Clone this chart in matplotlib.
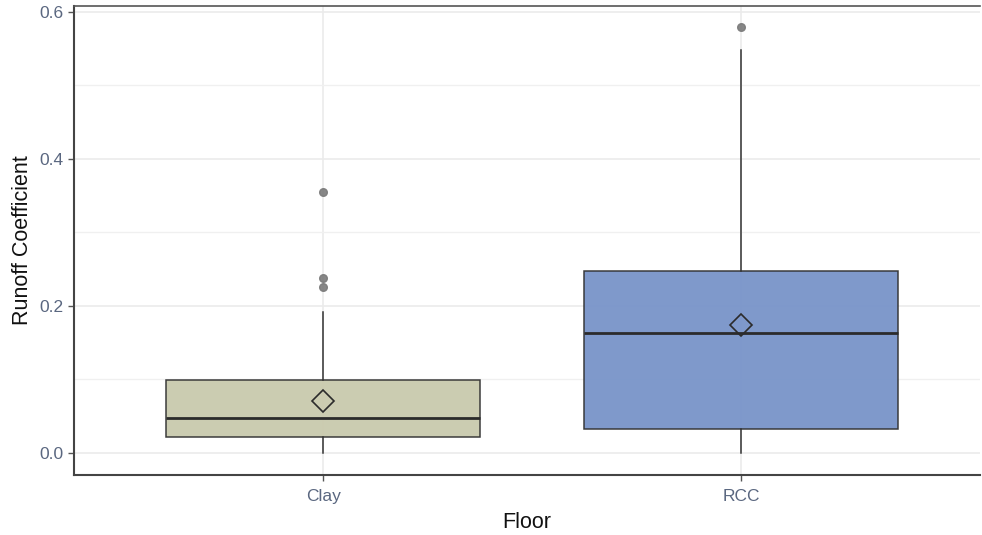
import matplotlib
matplotlib.use("Agg")
import matplotlib.pyplot as plt
from matplotlib.ticker import MultipleLocator, FormatStrFormatter

plt.rcParams['font.family'] = ['Liberation Sans', 'DejaVu Sans']

categories = ["Clay", "RCC"]
q1 = [0.022, 0.033]
median = [0.047, 0.163]
q3 = [0.099, 0.248]
whislo = [0.0, 0.0]
whishi = [0.192, 0.548]
means = [0.071, 0.174]
outliers = [[0.355, 0.238, 0.226], [0.580]]
fills = ["#c9caad", "#7894c9"]

fig = plt.figure(figsize=(9.82, 5.35), dpi=100)
ax = fig.add_axes([74/982, 1-475/535, (980-74)/982, (475-6)/535])

stats = []
for i, c in enumerate(categories):
    stats.append(dict(label=c, q1=q1[i], med=median[i], q3=q3[i],
                      whislo=whislo[i], whishi=whishi[i], mean=means[i],
                      fliers=outliers[i]))

bp = ax.bxp(stats, positions=[1, 2], widths=0.75, patch_artist=True,
            showmeans=True, showcaps=False,
            boxprops=dict(edgecolor="#333333", linewidth=1.1),
            medianprops=dict(color="#2b2b2b", linewidth=2.0),
            whiskerprops=dict(color="#333333", linewidth=1.1),
            flierprops=dict(marker="o", markersize=5.5, markerfacecolor="#7a7a7a",
                            markeredgecolor="#7a7a7a", alpha=0.9),
            meanprops=dict(marker="D", markersize=11, markerfacecolor="none",
                           markeredgecolor="#2b2b2b", markeredgewidth=1.2),
            zorder=3)
for patch, col in zip(bp["boxes"], fills):
    patch.set_facecolor(col)
    patch.set_alpha(0.95)
    patch.set_edgecolor("#333333")

ax.set_xlim(0.404, 2.572)
ax.set_ylim(-0.030, 0.608)
ax.yaxis.set_major_locator(MultipleLocator(0.2))
ax.yaxis.set_minor_locator(MultipleLocator(0.1))
ax.yaxis.set_major_formatter(FormatStrFormatter("%.1f"))
ax.set_xticks([1, 2])
ax.set_xticklabels(categories)

ax.grid(True, which="major", color="#ebebeb", linewidth=1.2, zorder=0)
ax.grid(True, which="minor", axis="y", color="#f0f0f0", linewidth=1.0, zorder=0)
ax.set_axisbelow(True)

for s in ["left", "bottom"]:
    ax.spines[s].set_color("#444444")
    ax.spines[s].set_linewidth(1.5)
ax.spines["top"].set_color("#555555")
ax.spines["top"].set_linewidth(1.2)
ax.spines["right"].set_visible(False)

ax.tick_params(axis="both", which="major", colors="#555555", labelcolor="#5a6780",
               labelsize=12.5, length=4, width=1.0)
ax.tick_params(axis="x", which="major", pad=6)
ax.tick_params(axis="y", which="minor", length=0)

ax.set_xlabel("Floor", fontsize=15.5, color="#111111", labelpad=6)
ax.set_ylabel("Runoff Coefficient", fontsize=15.5, color="#111111", labelpad=5)

fig.savefig("out.png", dpi=100)
